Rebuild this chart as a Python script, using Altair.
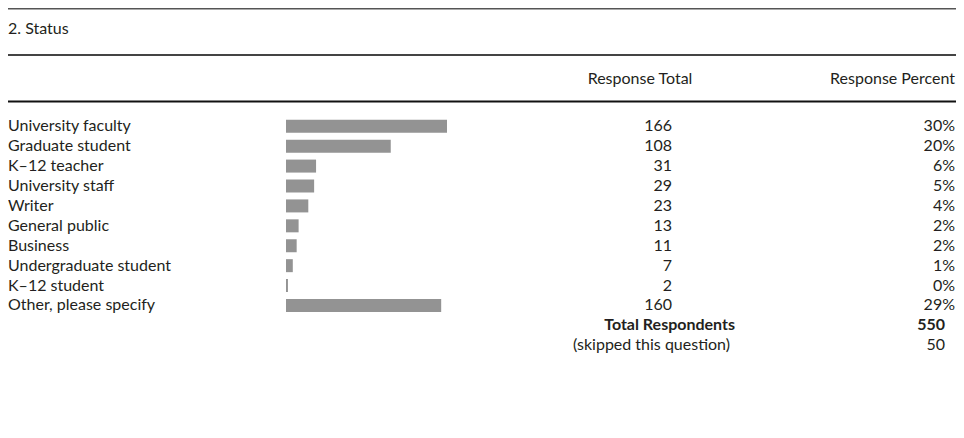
import altair as alt
import pandas as pd

# ---- data ----
title_text = "2. Status"
header_labels = ["Response Total", "Response Percent"]
categories = [
    "University faculty", "Graduate student", "K–12 teacher", "University staff",
    "Writer", "General public", "Business", "Undergraduate student",
    "K–12 student", "Other, please specify",
]
totals = [166, 108, 31, 29, 23, 13, 11, 7, 2, 160]
percents = ["30%", "20%", "6%", "5%", "4%", "2%", "2%", "1%", "0%", "29%"]
footer_labels = ["Total Respondents", "(skipped this question)"]
footer_values = [550, 50]

FONT = "Lato"
FS = 16
INK = "#231f20"
BAR = "#939393"
W, H = 948, 422

rows = pd.DataFrame({
    "category": categories,
    "total": totals,
    "percent": percents,
    "row": list(range(len(categories))),
})
foot = pd.DataFrame({
    "label": footer_labels,
    "value": footer_values,
    "row": [len(categories) + k for k in range(len(footer_labels))],
})

yscale = alt.Scale(domain=[-5.686, 15.0], reverse=True, nice=False, zero=False)
Y = alt.Y("row:Q", scale=yscale, axis=None)

def rule(y, color="#2a2a2a", w=1.6):
    return alt.Chart(pd.DataFrame({"k": [0]})).mark_rule(color=color, strokeWidth=w).encode(
        x=alt.value(0), x2=alt.value(W), y=alt.value(y)
    )

def header(text, x, y, align):
    return alt.Chart(pd.DataFrame({"t": [text]})).mark_text(
        font=FONT, fontSize=FS, color=INK, align=align, baseline="middle"
    ).encode(text="t:N", x=alt.value(x), y=alt.value(y))

lines = rule(0.8, "#555555", 1.6) + rule(47, "#444444", 2) + rule(93.5, "#111111", 2)

title = header(title_text, 0, 20.5, "left")
h1 = header(header_labels[0], 632, 71, "center")
h2 = header(header_labels[1], 947, 71, "right")

base = alt.Chart(rows)
labels = base.mark_text(font=FONT, fontSize=FS, color=INK, align="left", baseline="middle").encode(
    x=alt.value(0), y=Y, text="category:N"
)
bars = base.mark_bar(orient="horizontal", size=13, color=BAR).encode(
    x=alt.X("total:Q", scale=alt.Scale(domain=[0, 166], range=[278, 439], nice=False), axis=None),
    y=Y,
)
nums = base.mark_text(font=FONT, fontSize=FS, color=INK, align="right", baseline="middle").encode(
    x=alt.value(664), y=Y, text="total:Q"
)
pcts = base.mark_text(font=FONT, fontSize=FS, color=INK, align="right", baseline="middle").encode(
    x=alt.value(947), y=Y, text="percent:N"
)

fb = alt.Chart(foot)
foot_bold = fb.transform_filter(alt.datum.label == footer_labels[0])
foot_norm = fb.transform_filter(alt.datum.label == footer_labels[1])
fl1 = foot_bold.mark_text(font=FONT, fontSize=FS, fontWeight="bold", color=INK, align="right", baseline="middle").encode(
    x=alt.value(727), y=Y, text="label:N"
)
fv1 = foot_bold.mark_text(font=FONT, fontSize=FS, fontWeight="bold", color=INK, align="right", baseline="middle").encode(
    x=alt.value(937), y=Y, text="value:Q"
)
fl2 = foot_norm.mark_text(font=FONT, fontSize=FS, color=INK, align="right", baseline="middle").encode(
    x=alt.value(722), y=Y, text="label:N"
)
fv2 = foot_norm.mark_text(font=FONT, fontSize=FS, color=INK, align="right", baseline="middle").encode(
    x=alt.value(937), y=Y, text="value:Q"
)

chart = alt.layer(
    lines, title, h1, h2, bars, labels, nums, pcts, fl1, fv1, fl2, fv2
).properties(
    width=W, height=H, padding=0,
    autosize=alt.AutoSizeParams(type="none"),
    background="white",
).configure_view(stroke=None)

chart.save("out.html", embed_options={"renderer": "svg", "actions": False})
